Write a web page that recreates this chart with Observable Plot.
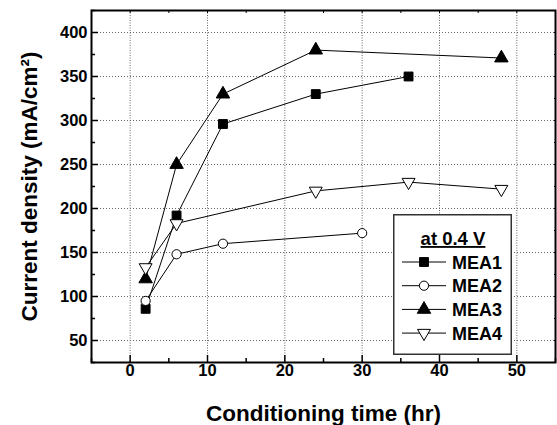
<!DOCTYPE html>
<html><head><meta charset="utf-8">
<script src="https://cdn.jsdelivr.net/npm/d3@7"></script>
<script src="https://cdn.jsdelivr.net/npm/@observablehq/plot@0.6"></script>
<style>
body{margin:0;background:#fff;font-family:"Liberation Sans",Arial,sans-serif;}
#wrap{position:relative;width:557px;height:425px;}
#legend{position:absolute;left:393px;top:214px;}
</style></head><body><div id="wrap"></div>
<script>
// Data
const mea1Time = [2, 6, 12, 24, 36];
const mea1Val  = [86, 192, 296, 330, 350];
const mea2Time = [2, 6, 12, 30];
const mea2Val  = [95, 148, 160, 172];
const mea3Time = [2, 6, 12, 24, 48];
const mea3Val  = [120, 250, 330, 380, 371];
const mea4Time = [2, 6, 24, 36, 48];
const mea4Val  = [133, 183, 220, 230, 222];
const seriesNames = ["MEA1", "MEA2", "MEA3", "MEA4"];
const xMajor = [0, 10, 20, 30, 40, 50];
const xMinor = [-5, 5, 15, 25, 35, 45, 55];
const yMajor = [50, 100, 150, 200, 250, 300, 350, 400];
const yMinor = [25, 75, 125, 175, 225, 275, 325, 375, 425];
const legendTitle = "at 0.4 V";
const xTitle = "Conditioning time (hr)";
const yTitle = "Current density (mA/cm²)";

const triangleDown = {
  draw(ctx, size) {
    const y = -Math.sqrt(size / (Math.sqrt(3) * 3));
    ctx.moveTo(0, -y * 2);
    ctx.lineTo(Math.sqrt(3) * y, y);
    ctx.lineTo(-Math.sqrt(3) * y, y);
    ctx.closePath();
  }
};
const styles = {
  MEA1: {symbol: "square", fill: "black", r: 5.0},
  MEA2: {symbol: "circle", fill: "white", r: 4.6},
  MEA3: {symbol: "triangle", fill: "black", r: 5.0},
  MEA4: {symbol: triangleDown, fill: "white", r: 4.8}
};
const times = [mea1Time, mea2Time, mea3Time, mea4Time];
const vals = [mea1Val, mea2Val, mea3Val, mea4Val];
const table = seriesNames.flatMap((s, i) => times[i].map((t, j) => ({series: s, t, v: vals[i][j]})));

const font = "Liberation Sans, Arial, sans-serif";
const plot = Plot.plot({
  width: 557, height: 425,
  marginLeft: 91, marginRight: 2, marginTop: 10, marginBottom: 63,
  style: {fontFamily: font, background: "white", overflow: "visible"},
  x: {domain: [-5, 55], label: null},
  y: {domain: [25, 425], label: null},
  marks: [
    Plot.gridX(xMajor, {stroke: "#666", strokeOpacity: 1, strokeDasharray: "1,1.5"}),
    Plot.gridY(yMajor, {stroke: "#666", strokeOpacity: 1, strokeDasharray: "1,2"}),
    Plot.line(table, {x: "t", y: "v", z: "series", stroke: "black", strokeWidth: 1}),
    ...seriesNames.map(s => Plot.dot(table.filter(d => d.series === s), {
      x: "t", y: "v", symbol: styles[s].symbol, r: styles[s].r,
      fill: styles[s].fill, stroke: "black", strokeWidth: 1
    })),
    Plot.axisX(xMajor, {anchor: "bottom", tickSize: -7, tickPadding: 9, fontSize: 16.5, fontWeight: "bold", label: null, strokeWidth: 1.5}),
    Plot.axisX(xMinor, {anchor: "bottom", tickSize: -4, tickFormat: () => "", label: null, strokeWidth: 1.5}),
    Plot.axisX(xMajor.concat(xMinor), {anchor: "top", tickSize: -2, tickFormat: () => "", label: null}),
    Plot.axisY(yMajor, {anchor: "left", tickSize: -7, tickPadding: 11, fontSize: 16.5, fontWeight: "bold", label: null, strokeWidth: 1.5}),
    Plot.axisY(yMinor, {anchor: "left", tickSize: -4, tickFormat: () => "", label: null, strokeWidth: 1.5}),
    Plot.axisY(yMajor.concat(yMinor), {anchor: "right", tickSize: -2, tickFormat: () => "", label: null}),
    Plot.frame({stroke: "black", strokeWidth: 2}),
    Plot.text([xTitle], {frameAnchor: "bottom", lineAnchor: "middle", textAnchor: "middle", dy: 51, fontSize: 22.5, fontWeight: "bold", fill: "black"}),
    Plot.text([yTitle], {frameAnchor: "left", lineAnchor: "middle", textAnchor: "middle", dx: -62, rotate: -90, fontSize: 22.5, fontWeight: "bold", fill: "black"})
  ]
});
document.getElementById("wrap").appendChild(plot);

// Legend box (overlay inside the plot area)
const lg = d3.select("#wrap").append("svg").attr("id", "legend")
  .attr("width", 119).attr("height", 141)
  .style("font-family", font);
lg.append("rect").attr("x", 0.75).attr("y", 0.75).attr("width", 117.5).attr("height", 139.5)
  .attr("fill", "white").attr("stroke", "#333").attr("stroke-width", 1.5);
lg.append("text").attr("x", 60).attr("y", 31).attr("text-anchor", "middle")
  .attr("font-size", 18.5).attr("font-weight", "bold").attr("text-decoration", "underline")
  .text(legendTitle);
seriesNames.forEach((s, i) => {
  const cy = 48 + i * 23.7;
  lg.append("line").attr("x1", 9).attr("x2", 53).attr("y1", cy).attr("y2", cy)
    .attr("stroke", "black").attr("stroke-width", 1);
  const st = styles[s];
  const type = st.symbol === "square" ? d3.symbolSquare : st.symbol === "circle" ? d3.symbolCircle
    : st.symbol === "triangle" ? d3.symbolTriangle : triangleDown;
  lg.append("path").attr("transform", `translate(31,${cy})`)
    .attr("d", d3.symbol(type, Math.PI * st.r * st.r)())
    .attr("fill", st.fill).attr("stroke", "black").attr("stroke-width", 1);
  lg.append("text").attr("x", 59).attr("y", cy + 6.5)
    .attr("font-size", 18).attr("font-weight", "bold").text(s);
});
</script></body></html>
